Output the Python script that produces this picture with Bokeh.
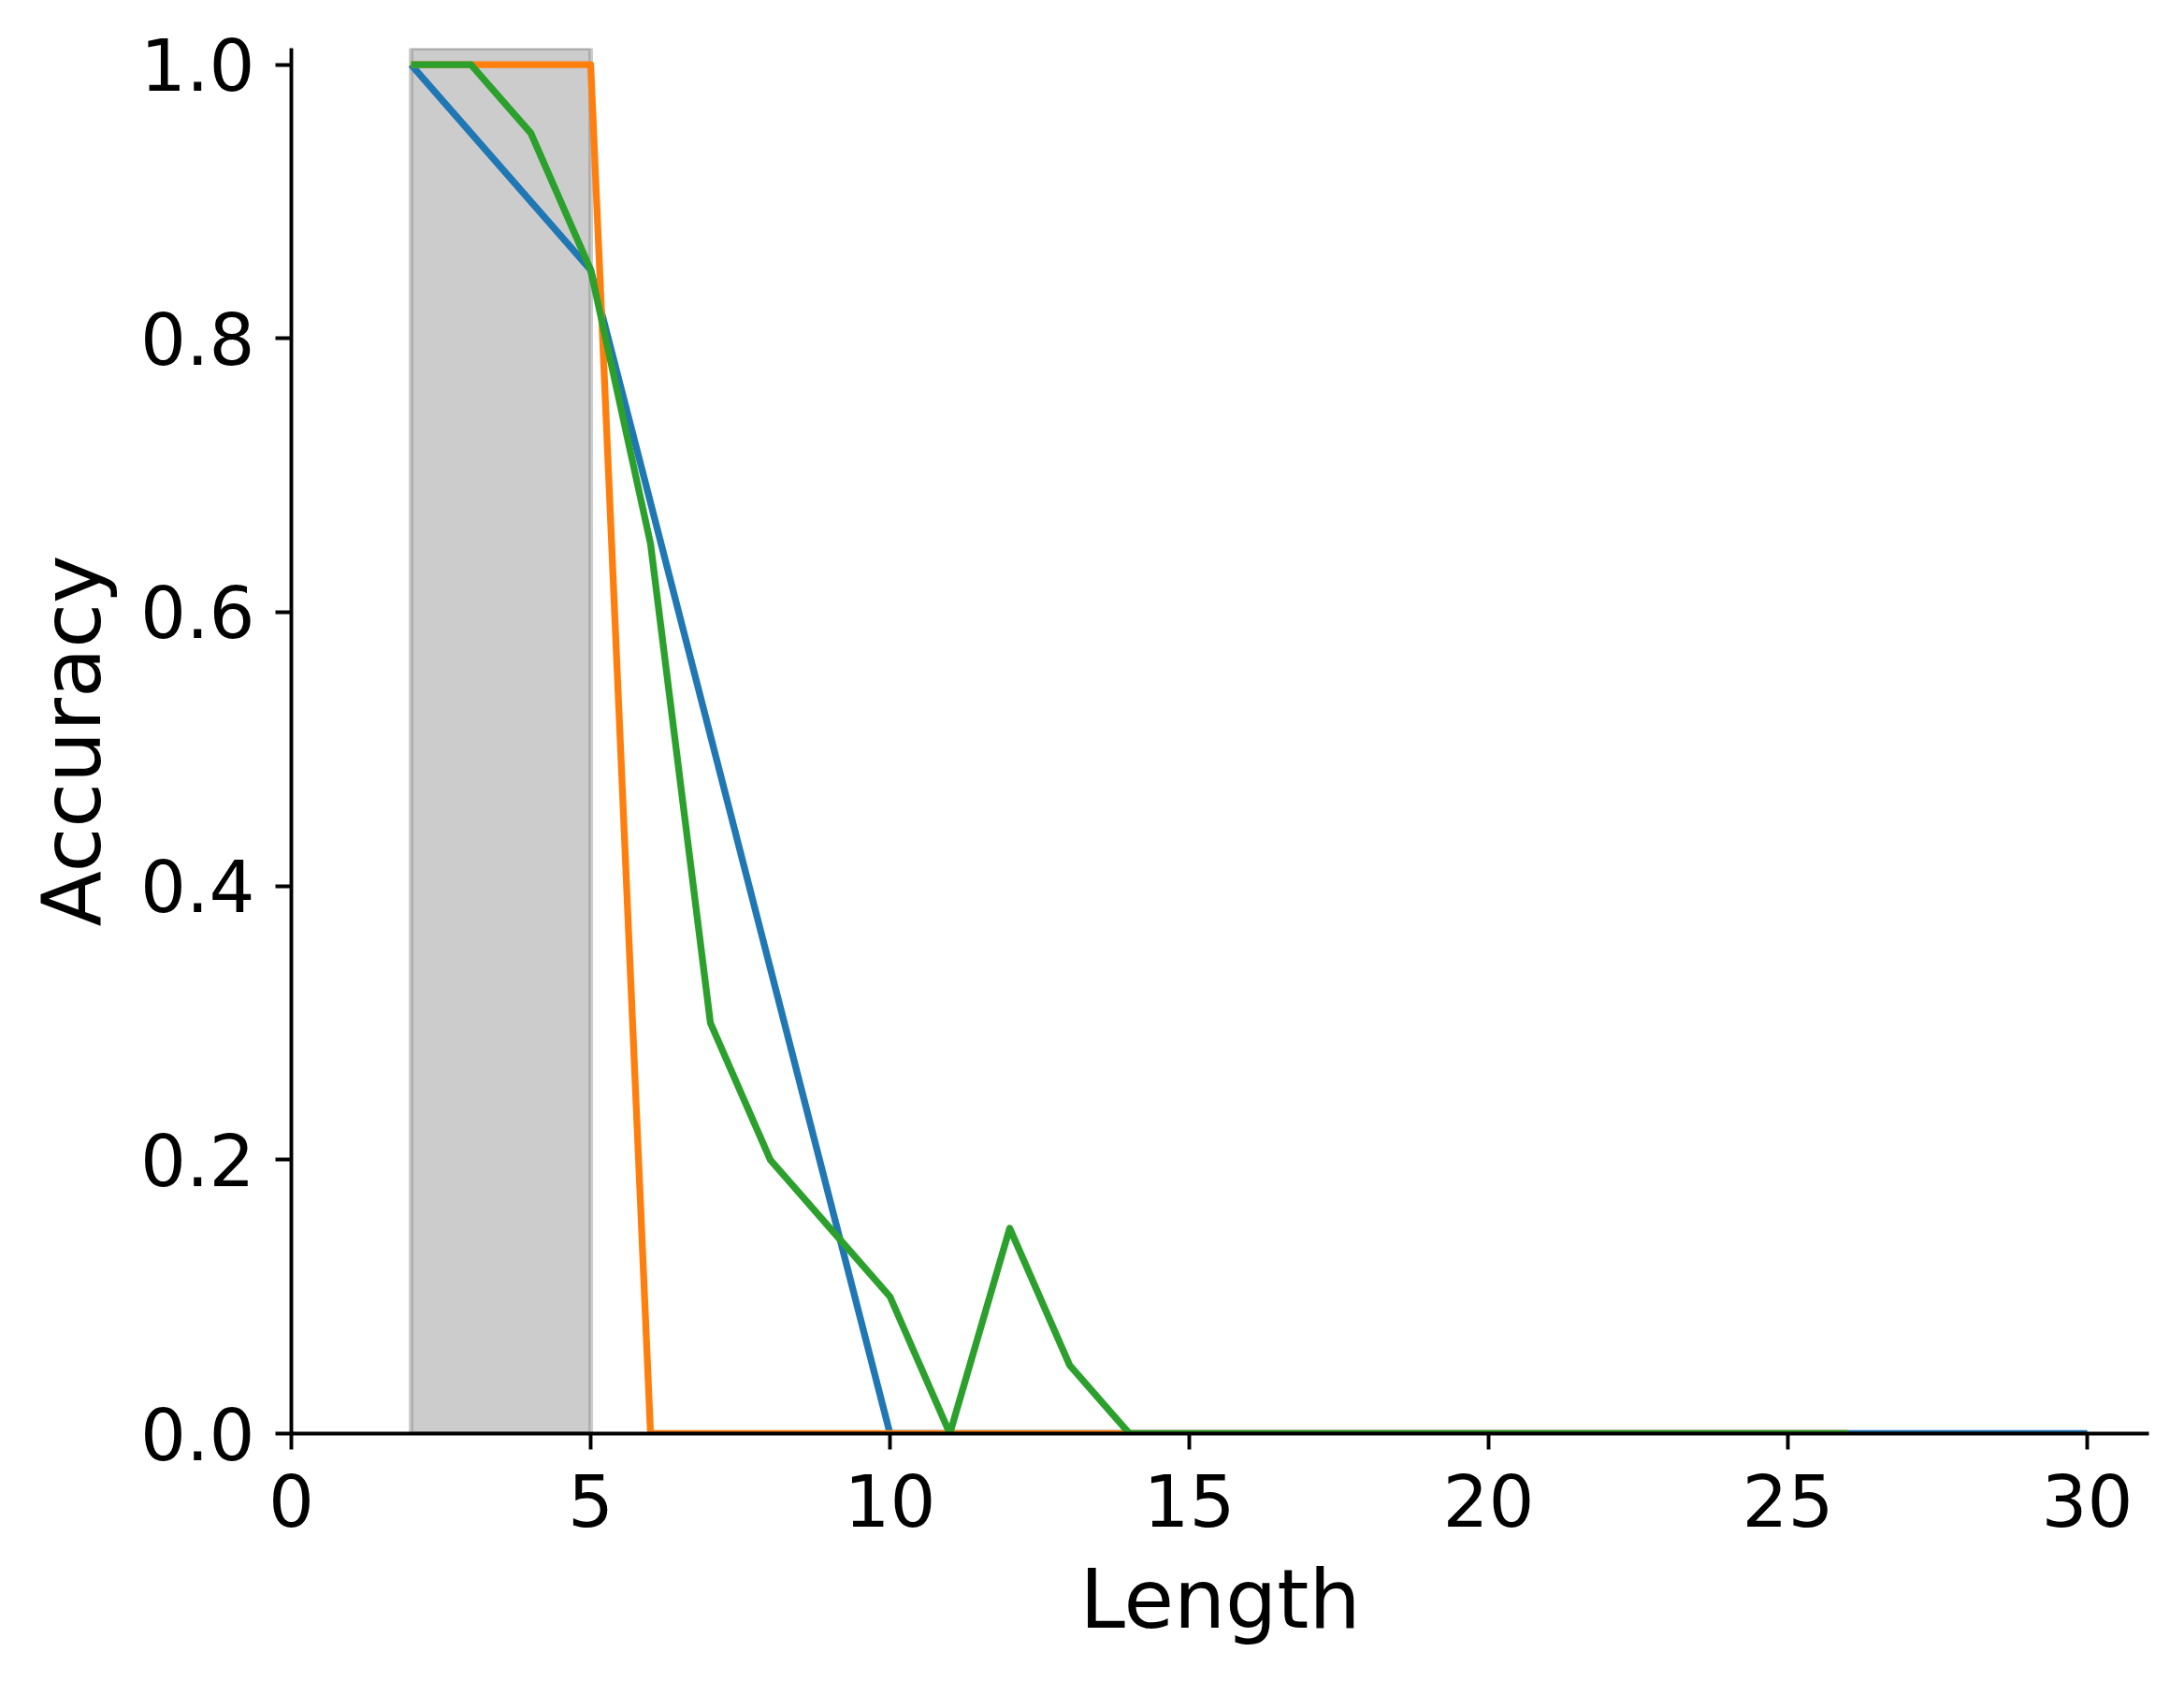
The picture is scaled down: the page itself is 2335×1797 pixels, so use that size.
from bokeh.plotting import figure
from bokeh.models import Range1d, FixedTicker, PrintfTickFormatter, BoxAnnotation
from bokeh.embed import file_html
from bokeh.resources import INLINE

# Data
blue_x = [2, 5, 10, 15, 20, 25, 30]
blue_y = [1.0, 0.85, 0.0, 0.0, 0.0, 0.0, 0.0]

orange_x = [2, 3, 4, 5, 6, 7, 8, 9, 10, 11, 12, 13, 14, 15, 16, 17, 18, 19, 20, 21, 22, 23, 24, 25, 26]
orange_y = [1.0, 1.0, 1.0, 1.0, 0.0, 0.0, 0.0, 0.0, 0.0, 0.0, 0.0, 0.0, 0.0, 0.0, 0.0, 0.0, 0.0, 0.0, 0.0, 0.0, 0.0, 0.0, 0.0, 0.0, 0.0]

green_x = [2, 3, 4, 5, 6, 7, 8, 9, 10, 11, 12, 13, 14, 15, 16, 17, 18, 19, 20, 21, 22, 23, 24, 25, 26]
green_y = [1.0, 1.0, 0.95, 0.85, 0.65, 0.30, 0.20, 0.15, 0.10, 0.0, 0.15, 0.05, 0.0, 0.0, 0.0, 0.0, 0.0, 0.0, 0.0, 0.0, 0.0, 0.0, 0.0, 0.0, 0.0]

span_start = 2
span_end = 5

x_ticks = [0, 5, 10, 15, 20, 25, 30]
y_ticks = [0.0, 0.2, 0.4, 0.6, 0.8, 1.0]

FONT = "DejaVu Sans"

p = figure(
    frame_width=1986, frame_height=1481,
    min_border_left=311, min_border_top=51, min_border_right=29, min_border_bottom=240,
    x_range=Range1d(0, 31.03), y_range=Range1d(0, 1.012),
    output_backend="svg", toolbar_location=None,
)
p.outline_line_color = None
p.xgrid.visible = False
p.ygrid.visible = False
p.background_fill_color = "white"
p.border_fill_color = "white"

span = BoxAnnotation(left=span_start, right=span_end,
                     fill_color="gray", fill_alpha=0.4,
                     line_color="gray", line_alpha=0.4, line_width=5,
                     level="underlay")
p.add_layout(span)

for xs, ys, c in [(blue_x, blue_y, "#1f77b4"), (orange_x, orange_y, "#ff7f0e"), (green_x, green_y, "#2ca02c")]:
    p.line(xs, ys, line_color=c, line_width=7.3, line_join="round")

for ax in (p.xaxis[0], p.yaxis[0]):
    ax.axis_line_width = 3.9
    ax.axis_line_color = "black"
    ax.major_tick_line_width = 3.9
    ax.major_tick_out = 17
    ax.major_tick_in = 0
    ax.minor_tick_out = 0
    ax.minor_tick_in = 0
    ax.major_label_text_font = FONT
    ax.major_label_text_font_size = "77px"
    ax.major_label_text_color = "black"
    ax.axis_label_text_font = FONT
    ax.axis_label_text_font_size = "87px"
    ax.axis_label_text_font_style = "normal"
    ax.axis_label_text_color = "black"

p.xaxis[0].ticker = FixedTicker(ticks=x_ticks)
p.yaxis[0].ticker = FixedTicker(ticks=y_ticks)
p.xaxis[0].formatter = PrintfTickFormatter(format="%d")
p.yaxis[0].formatter = PrintfTickFormatter(format="%.1f")
p.xaxis[0].axis_label = "Length"
p.yaxis[0].axis_label = "Accuracy"
p.xaxis[0].major_label_standoff = 26
p.yaxis[0].major_label_standoff = 22
p.xaxis[0].axis_label_standoff = 24
p.yaxis[0].axis_label_standoff = 19

open("out.html", "w").write(file_html(p, INLINE))
